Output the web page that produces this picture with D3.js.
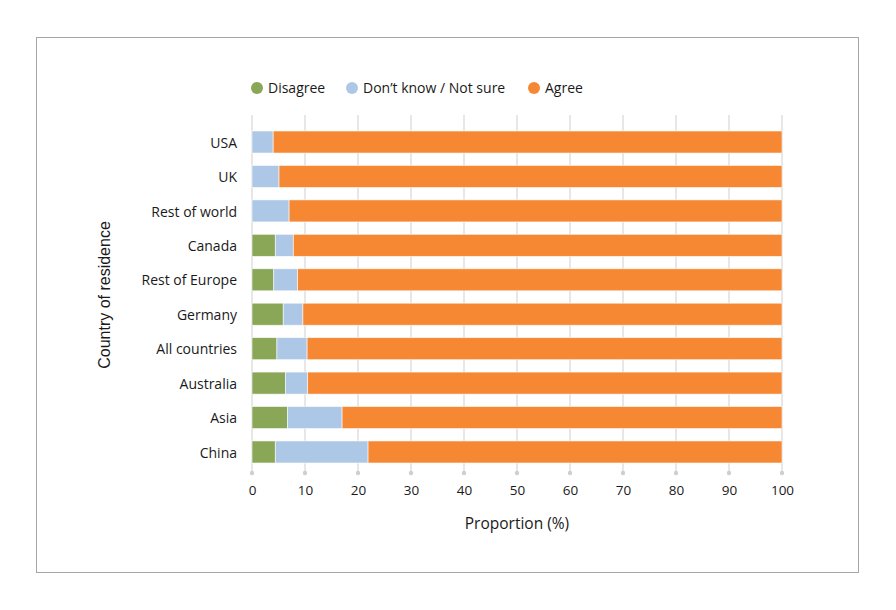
<!DOCTYPE html>
<html>
<head>
<meta charset="utf-8">
<script src="https://cdn.jsdelivr.net/npm/d3@7"></script>
<style>
  body { margin: 0; background: #fff; }
  text { font-family: "Open Sans", "Noto Sans", sans-serif; fill: #1a1a1a; }
</style>
</head>
<body>
<div id="chart"></div>
<script>
const categories = ["USA", "UK", "Rest of world", "Canada", "Rest of Europe", "Germany", "All countries", "Australia", "Asia", "China"]
const disagree = [0, 0, 0, 4.4, 4.1, 5.9, 4.7, 6.3, 6.7, 4.4]
const dontKnow = [4.0, 5.1, 7.0, 3.4, 4.5, 3.7, 5.7, 4.2, 10.3, 17.5]
const seriesNames = ["Disagree", "Don\u2019t know / Not sure", "Agree"]
const colors = ["#8aa657", "#adc8e6", "#f68834"]
const xTicks = [0, 10, 20, 30, 40, 50, 60, 70, 80, 90, 100]

const svgWidth = 896
const svgHeight = 610
let margin = { top: 131, right: 114, bottom: 147, left: 252 }
let width = svgWidth - margin.left - margin.right
let height = svgHeight - margin.top - margin.bottom

let svg = d3.select("#chart").append("svg")
  .attr("width", svgWidth)
  .attr("height", svgHeight)

// frame
svg.append("rect")
  .attr("x", 36.5).attr("y", 37.5)
  .attr("width", 822).attr("height", 535)
  .attr("fill", "none").attr("stroke", "#a6a6a6")

let chartGroup = svg.append("g")
  .attr("transform", `translate(${margin.left}, ${margin.top})`)

let data = categories.map((c, i) => ({
  cat: c,
  Disagree: disagree[i],
  DontKnow: dontKnow[i],
  Agree: 100 - disagree[i] - dontKnow[i]
}))
let keys = ["Disagree", "DontKnow", "Agree"]
let stacked = d3.stack().keys(keys)(data)

let x = d3.scaleLinear().domain([0, 100]).range([0, width])
let y = d3.scaleBand().domain(categories).range([0, 332]).paddingInner(0.36).paddingOuter(0)

// gridlines + tick dots
let grid = chartGroup.append("g")
grid.selectAll("line").data(xTicks).enter().append("line")
  .attr("x1", d => x(d)).attr("x2", d => x(d))
  .attr("y1", -16).attr("y2", 342)
  .attr("stroke", "#cfcfcf").attr("stroke-width", 1)
grid.selectAll("circle").data(xTicks).enter().append("circle")
  .attr("cx", d => x(d)).attr("cy", 342).attr("r", 2.2)
  .attr("fill", "#cfcfcf")

// bars
chartGroup.selectAll("g.series").data(stacked).enter().append("g")
  .attr("class", "series")
  .attr("fill", (d, i) => colors[i])
  .selectAll("rect").data(d => d.filter(p => p[1] - p[0] > 0)).enter().append("rect")
  .attr("x", d => x(d[0]))
  .attr("y", d => y(d.data.cat))
  .attr("width", d => x(d[1]) - x(d[0]))
  .attr("height", y.bandwidth())
  .attr("stroke", "#fff").attr("stroke-width", 0.8).attr("stroke-opacity", 0.7)

// x axis labels
let bottomAxis = d3.axisBottom(x).tickValues(xTicks).tickSize(0).tickPadding(0)
let xAxis = chartGroup.append("g")
  .attr("transform", `translate(0, 364)`)
  .call(bottomAxis)
xAxis.select(".domain").remove()
xAxis.selectAll("text").style("font-size", "13.5px").style("fill", "#1a1a1a")
  .attr("dy", "0")

// y axis labels
let leftAxis = d3.axisLeft(y).tickSize(0).tickPadding(15)
let yAxis = chartGroup.append("g").call(leftAxis)
yAxis.select(".domain").remove()
yAxis.selectAll("text").style("font-size", "14px").style("fill", "#1a1a1a")
  .attr("dy", "0.4em")

// axis titles
svg.append("text")
  .attr("x", 517).attr("y", 529)
  .attr("text-anchor", "middle")
  .style("font-size", "15.5px")
  .text("Proportion (%)")
svg.append("text")
  .attr("transform", "translate(110, 295) rotate(-90)")
  .attr("text-anchor", "middle")
  .style("font-family", "'Liberation Sans', Arial, sans-serif")
  .style("font-size", "16px")
  .text("Country of residence")

// legend
let legendPos = [257, 352, 534]
let legend = svg.append("g")
seriesNames.forEach((name, i) => {
  legend.append("circle")
    .attr("cx", legendPos[i]).attr("cy", 88).attr("r", 6)
    .attr("fill", colors[i])
  legend.append("text")
    .attr("x", legendPos[i] + 11).attr("y", 93)
    .style("font-size", "14px")
    .text(name)
})
</script>
</body>
</html>
